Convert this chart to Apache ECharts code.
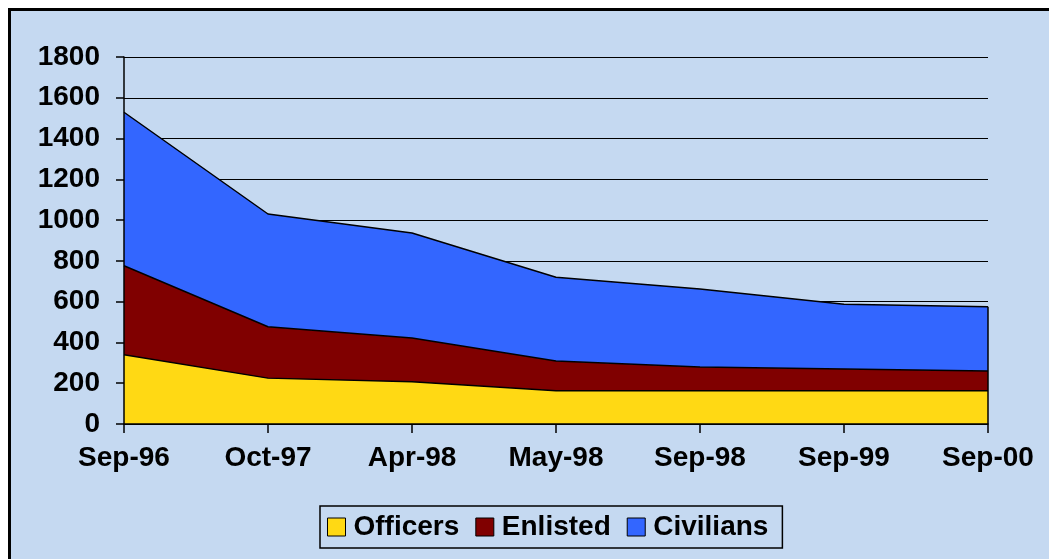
<!DOCTYPE html>
<html>
<head>
<meta charset="utf-8">
<script src="https://cdn.jsdelivr.net/npm/echarts@6/dist/echarts.min.js"></script>
<style>
html,body{margin:0;padding:0;background:#fff;}
#chart{width:1049px;height:559px;}
</style>
</head>
<body>
<div id="chart"></div>
<script>
const categories = ['Sep-96','Oct-97','Apr-98','May-98','Sep-98','Sep-99','Sep-00'];
const officers  = [340, 225, 207, 163, 163, 163, 163];
const enlisted  = [436, 252, 215, 146, 117, 107, 97];
const civilians = [753, 553, 515, 411, 382, 317, 315];
const yTicks = { min: 0, max: 1800, interval: 200 };

const FONT = "'Liberation Sans', Arial, sans-serif";
const last = categories.length - 1;
const lastTotal = officers[last] + enlisted[last] + civilians[last];

function areaSeries(name, data, color) {
  return {
    name: name,
    type: 'line',
    stack: 'total',
    data: data,
    xAxisIndex: 0,
    yAxisIndex: 0,
    showSymbol: false,
    symbol: 'none',
    itemStyle: { color: color },
    lineStyle: { color: '#000', width: 1.5 },
    areaStyle: { color: color, opacity: 1 },
    emphasis: { disabled: true },
    animation: false
  };
}

const chart = echarts.init(document.getElementById('chart'), null, { renderer: 'canvas' });
const civ = areaSeries('Civilians', civilians, '#3366FF');
civ.markLine = {
  silent: true,
  symbol: 'none',
  label: { show: false },
  lineStyle: { color: '#000', width: 1.5, type: 'solid' },
  data: [[{ coord: [last, 0] }, { coord: [last, lastTotal] }]]
};
const labelStyle = { fontFamily: FONT, fontWeight: 'bold', fontSize: 28, color: '#000' };
chart.setOption({
  backgroundColor: '#fff',
  animation: false,
  graphic: [{
    type: 'rect',
    z: -10,
    silent: true,
    shape: { x: 9.5, y: 9.5, width: 1100, height: 700 },
    style: { fill: '#C5D9F1', stroke: '#000', lineWidth: 3 }
  }],
  grid: { left: 124, right: 61, top: 57, bottom: 135, containLabel: false },
  legend: {
    left: 320,
    top: 506,
    icon: 'rect',
    itemWidth: 18,
    itemHeight: 18,
    itemGap: 16,
    padding: [5, 14, 5, 7],
    borderColor: '#000',
    borderWidth: 1.5,
    backgroundColor: '#C5D9F1',
    itemStyle: { borderColor: '#000', borderWidth: 1 },
    textStyle: Object.assign({ padding: [0, 0, 0, 3], lineHeight: 32 }, labelStyle),
    data: ['Officers', 'Enlisted', 'Civilians'],
    selectedMode: false
  },
  xAxis: [{
    type: 'category',
    data: categories,
    boundaryGap: false,
    axisLine: { lineStyle: { color: '#000', width: 1.5 } },
    axisTick: { show: true, alignWithLabel: true, length: 9, lineStyle: { color: '#000', width: 1.5 } },
    axisLabel: Object.assign({ margin: 20, interval: 0 }, labelStyle),
    splitLine: { show: false },
    z: 10
  }],
  yAxis: [{
    type: 'value',
    min: yTicks.min,
    max: yTicks.max,
    interval: yTicks.interval,
    axisLine: { show: false },
    axisTick: { show: false },
    axisLabel: { show: false },
    splitLine: { show: true, lineStyle: { color: '#000', width: 1.2 } }
  }, {
    type: 'value',
    position: 'left',
    min: yTicks.min,
    max: yTicks.max,
    interval: yTicks.interval,
    axisLine: { show: true, lineStyle: { color: '#000', width: 1.5 } },
    axisTick: { show: true, length: 8, lineStyle: { color: '#000', width: 1.5 } },
    axisLabel: Object.assign({ margin: 24, formatter: function (v) { return String(v); } }, labelStyle),
    splitLine: { show: false },
    z: 10
  }],
  series: [
    areaSeries('Officers', officers, '#FFD914'),
    areaSeries('Enlisted', enlisted, '#800000'),
    civ
  ]
});
</script>
</body>
</html>
